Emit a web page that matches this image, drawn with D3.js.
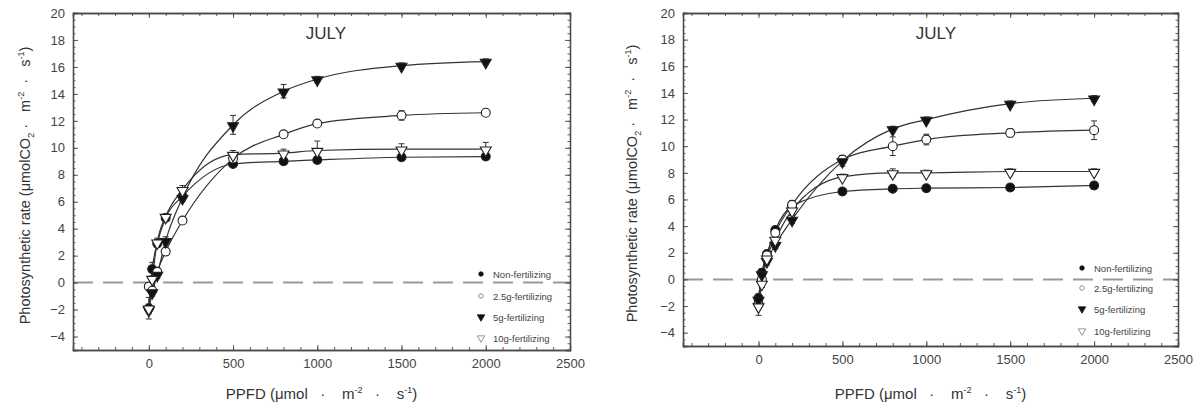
<!DOCTYPE html>
<html>
<head>
<meta charset="utf-8">
<script src="https://cdn.jsdelivr.net/npm/d3@7"></script>
<style>
  body { margin: 0; background: #fff; }
  svg { display: block; font-family: "Liberation Sans", Arial, sans-serif; }
  text { white-space: pre; }
</style>
</head>
<body>
<svg id="chart" width="1196" height="404"></svg>
<script>
// ---------- data ----------
const ppfd = [0, 20, 50, 100, 200, 500, 800, 1000, 1500, 2000];
const seriesNames = ["Non-fertilizing", "2.5g-fertilizing", "5g-fertilizing", "10g-fertilizing"];
const panelTitles = ["JULY", "JULY"];
const xTicks = [0, 500, 1000, 1500, 2000, 2500];
const yTicks = [-4, -2, 0, 2, 4, 6, 8, 10, 12, 14, 16, 18, 20];

// left panel
const leftNon  = [-1.9, 1.0, 2.9, 4.8, 6.4, 8.8, 9.0, 9.1, 9.3, 9.35];
const leftG25  = [-0.3, -0.6, 0.8, 2.3, 4.6, 9.2, 11.0, 11.8, 12.4, 12.6];
const leftG5   = [-2.0, -0.7, 0.6, 3.1, 6.3, 11.7, 14.2, 15.1, 16.1, 16.4];
const leftG10  = [-1.9, 0.3, 3.0, 4.9, 6.9, 9.5, 9.6, 9.8, 9.9, 9.9];
const leftNonSE = [0.8, 0.5, 0.3, 0.2, 0.3, 0.2, 0.2, 0.2, 0.2, 0.2];
const leftG25SE = [0.3, 0.3, 0.3, 0.2, 0.2, 0.3, 0.2, 0.2, 0.35, 0.2];
const leftG5SE  = [0.3, 0.3, 0.3, 0.3, 0.3, 0.7, 0.5, 0.2, 0.2, 0.2];
const leftG10SE = [0.3, 0.6, 0.3, 0.2, 0.3, 0.3, 0.3, 0.7, 0.4, 0.5];

// right panel
const rightNon = [-1.4, 0.5, 1.9, 3.7, 5.5, 6.6, 6.8, 6.85, 6.9, 7.05];
const rightG25 = [-1.8, 0.0, 1.8, 3.5, 5.6, 9.0, 10.0, 10.5, 11.0, 11.2];
const rightG5  = [-1.5, 0.4, 1.4, 2.6, 4.5, 8.9, 11.3, 12.0, 13.2, 13.6];
const rightG10 = [-2.0, -0.3, 1.6, 3.0, 5.2, 7.7, 8.0, 8.0, 8.1, 8.1];
const rightNonSE = [0.3, 0.3, 0.2, 0.2, 0.3, 0.2, 0.2, 0.2, 0.2, 0.2];
const rightG25SE = [0.3, 0.4, 0.3, 0.3, 0.3, 0.3, 0.7, 0.4, 0.3, 0.7];
const rightG5SE  = [0.3, 0.3, 0.3, 0.3, 0.3, 0.4, 0.2, 0.2, 0.2, 0.2];
const rightG10SE = [0.7, 0.3, 0.3, 0.2, 0.3, 0.2, 0.3, 0.2, 0.2, 0.2];

// ---------- drawing ----------
const svg = d3.select("#chart");
const AX = "#4a4a4a", TXT = "#444";

const styles = [
  { shape: d3.symbolCircle,   filled: true,  size: 62, lsize: 16, rot: 0 },
  { shape: d3.symbolCircle,   filled: false, size: 62, lsize: 16, rot: 0 },
  { shape: d3.symbolTriangle, filled: true,  size: 52, lsize: 24, rot: 180 },
  { shape: d3.symbolTriangle, filled: false, size: 52, lsize: 24, rot: 180 }
];

function drawPanel(cfg) {
  const x = d3.scaleLinear().domain([-450, 2500]).range([cfg.left, cfg.right]);
  const y = d3.scaleLinear().domain([-5, 20]).range([cfg.bottom, cfg.top]);
  const g = svg.append("g");

  // zero dashed line
  g.append("line")
    .attr("x1", x(-450)).attr("x2", x(2500))
    .attr("y1", y(0)).attr("y2", y(0))
    .attr("stroke", "#999").attr("stroke-width", 2)
    .attr("stroke-dasharray", "20,10");

  // axes (inward ticks)
  const minorX = d3.range(-400, 2501, 100);
  const minorY = d3.range(-5, 20.01, 0.5);
  const axB = d3.axisBottom(x).tickValues(minorX).tickSize(-3).tickFormat("");
  const axT = d3.axisTop(x).tickValues(minorX).tickSize(-3).tickFormat("");
  const axL = d3.axisLeft(y).tickValues(minorY).tickSize(-2.5).tickFormat("");
  const axR = d3.axisRight(y).tickValues(minorY).tickSize(-2.5).tickFormat("");
  const majB = d3.axisBottom(x).tickValues(xTicks).tickSize(-5).tickPadding(9).tickFormat(d3.format("d"));
  const majT = d3.axisTop(x).tickValues(xTicks).tickSize(-5).tickFormat("");
  const majL = d3.axisLeft(y).tickValues(yTicks).tickSize(-5).tickPadding(8).tickFormat(d3.format("d"));
  const majR = d3.axisRight(y).tickValues(yTicks).tickSize(-5).tickFormat("");

  const place = (ax, tx, ty) => {
    const a = g.append("g").attr("transform", `translate(${tx},${ty})`).call(ax);
    a.selectAll("path").attr("stroke", AX).attr("stroke-width", 1.3);
    a.selectAll("line").attr("stroke", AX).attr("stroke-width", 0.9);
    a.selectAll("text").attr("fill", TXT).attr("font-size", 13)
      .attr("font-family", "'Liberation Sans', Arial, sans-serif");
    return a;
  };
  place(axB, 0, cfg.bottom); place(axT, 0, cfg.top);
  place(axL, cfg.left, 0); place(axR, cfg.right, 0);
  place(majB, 0, cfg.bottom); place(majT, 0, cfg.top);
  place(majL, cfg.left, 0); place(majR, cfg.right, 0);

  // title
  g.append("text").attr("x", cfg.titleX).attr("y", cfg.top + 26)
    .attr("text-anchor", "middle").attr("font-size", 17).attr("fill", "#333")
    .text(cfg.title);

  // x axis label
  const xl = g.append("text").attr("x", (cfg.left + cfg.right) / 2).attr("y", 399)
    .attr("text-anchor", "middle").attr("font-size", 15).attr("fill", "#333");
  xl.append("tspan").text("PPFD (\u03bcmol   \u00b7    m");
  xl.append("tspan").attr("dy", -6).attr("font-size", 9).text("-2");
  xl.append("tspan").attr("dy", 6).text("   \u00b7    s");
  xl.append("tspan").attr("dy", -6).attr("font-size", 9).text("-1");
  xl.append("tspan").attr("dy", 6).text(")");

  // y axis label
  const yl = g.append("text")
    .attr("transform", `translate(${cfg.ylabX},${(cfg.top + cfg.bottom) / 2 + 4}) rotate(-90)`)
    .attr("text-anchor", "middle").attr("font-size", 14.5).attr("fill", "#333");
  yl.append("tspan").text("Photosynthetic rate (\u03bcmolCO");
  yl.append("tspan").attr("dy", 4).attr("font-size", 9).text("2");
  yl.append("tspan").attr("dy", -4).text(" \u00b7   m");
  yl.append("tspan").attr("dy", -6).attr("font-size", 9).text("-2");
  yl.append("tspan").attr("dy", 6).text("  \u00b7   s");
  yl.append("tspan").attr("dy", -6).attr("font-size", 9).text("-1");
  yl.append("tspan").attr("dy", 6).text(")");

  // curves
  const line = d3.line().x((d, i) => x(ppfd[i])).y(d => y(d)).curve(d3.curveMonotoneX);
  cfg.series.forEach(s => {
    g.append("path").attr("d", line(s)).attr("fill", "none")
      .attr("stroke", "#333").attr("stroke-width", 1.2);
  });

  // error bars
  cfg.series.forEach((s, k) => {
    const se = cfg.errors[k];
    s.forEach((v, i) => {
      const px = x(ppfd[i]);
      const eg = g.append("g").attr("stroke", "#333").attr("stroke-width", 1);
      eg.append("line").attr("x1", px).attr("x2", px).attr("y1", y(v - se[i])).attr("y2", y(v + se[i]));
      eg.append("line").attr("x1", px - 3).attr("x2", px + 3).attr("y1", y(v - se[i])).attr("y2", y(v - se[i]));
      eg.append("line").attr("x1", px - 3).attr("x2", px + 3).attr("y1", y(v + se[i])).attr("y2", y(v + se[i]));
    });
  });

  // markers
  cfg.series.forEach((s, k) => {
    const st = styles[k];
    const sym = d3.symbol().type(st.shape).size(st.size);
    g.selectAll(null).data(s).join("path")
      .attr("d", sym)
      .attr("transform", (d, i) => `translate(${x(ppfd[i])},${y(d) + (st.rot ? 1 : 0)}) rotate(${st.rot})`)
      .attr("fill", st.filled ? "#111" : "#fff")
      .attr("stroke", "#222").attr("stroke-width", 1.1);
  });

  // legend
  seriesNames.forEach((name, k) => {
    const st = styles[k];
    const ly = cfg.legY[k];
    g.append("path").attr("d", d3.symbol().type(st.shape).size(st.lsize))
      .attr("transform", `translate(${cfg.legX},${ly}) rotate(${st.rot})`)
      .attr("fill", st.filled ? "#111" : "#fff")
      .attr("stroke", st.filled ? "#111" : "#777").attr("stroke-width", 0.8);
    g.append("text").attr("x", cfg.legX + 12).attr("y", ly + 3.5)
      .attr("font-size", 9.5).attr("fill", "#444").text(name);
  });
}

drawPanel({
  left: 73, right: 570, top: 13, bottom: 350,
  title: panelTitles[0], titleX: 326, ylabX: 30,
  series: [leftNon, leftG25, leftG5, leftG10],
  errors: [leftNonSE, leftG25SE, leftG5SE, leftG10SE],
  legX: 481, legY: [274, 296, 317, 338]
});

drawPanel({
  left: 683, right: 1178, top: 13, bottom: 346,
  title: panelTitles[1], titleX: 936, ylabX: 637,
  series: [rightNon, rightG25, rightG5, rightG10],
  errors: [rightNonSE, rightG25SE, rightG5SE, rightG10SE],
  legX: 1082, legY: [268, 288, 309, 331]
});
</script>
</body>
</html>
